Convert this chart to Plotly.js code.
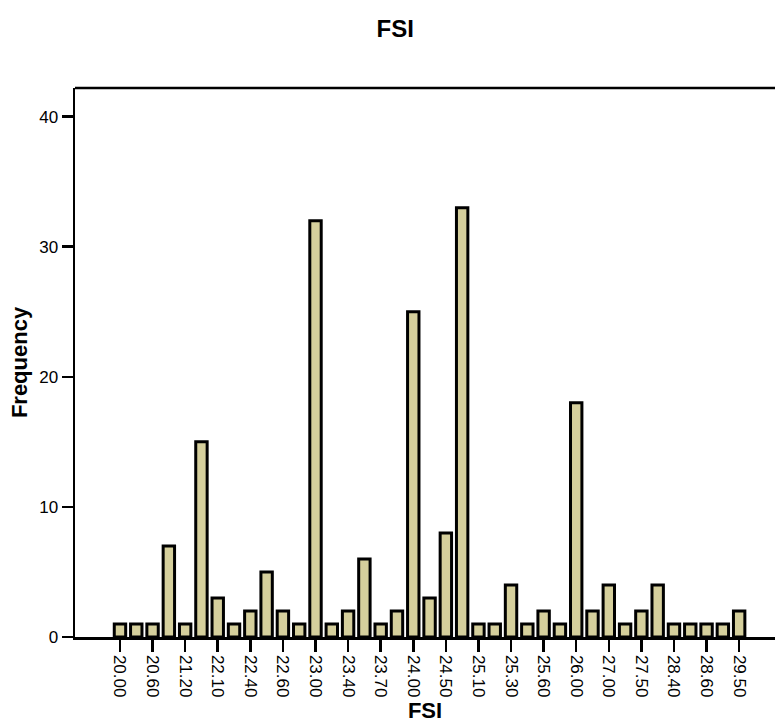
<!DOCTYPE html>
<html>
<head>
<meta charset="utf-8">
<script src="https://cdn.plot.ly/plotly-3.0.1.min.js"></script>
<style>html,body{margin:0;padding:0;background:#fff;}#chart{width:775px;height:727px;}</style>
</head>
<body>
<div id="chart"></div>
<script>
// Frequency of each FSI value (39 bars, every other one labelled on the axis)
var counts = [1, 1, 1, 7, 1, 15, 3, 1, 2, 5, 2, 1, 32, 1, 2, 6, 1, 2, 25, 3, 8, 33, 1, 1, 4, 1, 2, 1, 18, 2, 4, 1, 2, 4, 1, 1, 1, 1, 2];
// Tick labels shown on the x axis (on bars 1, 3, 5, ...)
var tickLabels = ["20.00", "20.60", "21.20", "22.10", "22.40", "22.60", "23.00", "23.40", "23.70", "24.00",
                  "24.50", "25.10", "25.30", "25.60", "26.00", "27.00", "27.50", "28.40", "28.60", "29.50"];
var yTicks = [0, 10, 20, 30, 40];

var xPos = counts.map(function (_, i) { return i; });
var tickPos = tickLabels.map(function (_, i) { return 2 * i; });

var trace = {
  type: 'bar',
  x: xPos,
  y: counts,
  width: 0.7,
  marker: { color: '#d5cf9c', line: { color: '#000000', width: 3 } },
  hoverinfo: 'y'
};

var FAM = 'Liberation Sans, Arial, sans-serif';

var layout = {
  width: 775,
  height: 727,
  paper_bgcolor: '#ffffff',
  plot_bgcolor: '#ffffff',
  margin: { l: 75, r: 0, t: 88, b: 90 },
  showlegend: false,
  font: { family: FAM, color: '#000' },
  title: {
    text: '<b>FSI</b>',
    font: { family: FAM, size: 24, color: '#000' },
    x: 0.51, xref: 'container', xanchor: 'center',
    y: 0.96, yref: 'container', yanchor: 'middle'
  },
  xaxis: {
    range: [-2.76, 40.2],
    tickmode: 'array',
    tickvals: tickPos,
    ticktext: tickLabels,
    tickangle: 90,
    ticks: 'outside',
    ticklen: 12,
    tickwidth: 2.5,
    tickcolor: '#000',
    tickfont: { family: FAM, size: 17, color: '#000' },
    showline: true,
    linecolor: '#000',
    linewidth: 2.5,
    showgrid: false,
    zeroline: false,
    fixedrange: true,
    automargin: false,
    title: {
      text: '<b>FSI</b>',
      font: { family: FAM, size: 22, color: '#000' },
      standoff: 6
    }
  },
  yaxis: {
    range: [0, 42.2],
    tickmode: 'array',
    tickvals: yTicks,
    ticktext: yTicks.map(String),
    ticks: 'outside',
    ticklen: 11,
    tickwidth: 2.5,
    tickcolor: '#000',
    tickfont: { family: FAM, size: 17, color: '#000' },
    showline: true,
    linecolor: '#000',
    linewidth: 2.5,
    showgrid: false,
    zeroline: false,
    fixedrange: true,
    automargin: false,
    title: {
      text: '<b>Frequency</b>',
      font: { family: FAM, size: 22, color: '#000' },
      standoff: 6
    }
  },
  shapes: [{
    type: 'line', xref: 'paper', yref: 'paper',
    x0: 0, x1: 1, y0: 1, y1: 1,
    line: { color: '#000', width: 2.5 }
  }]
};

Plotly.newPlot('chart', [trace], layout, { displayModeBar: false, staticPlot: true });
</script>
</body>
</html>
